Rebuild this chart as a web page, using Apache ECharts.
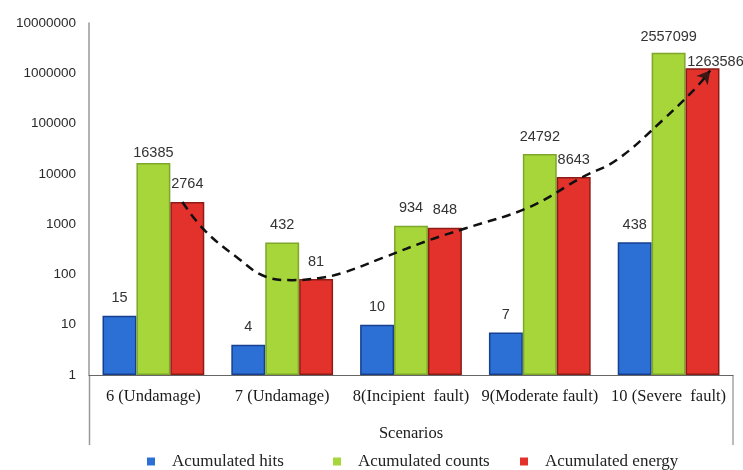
<!DOCTYPE html>
<html>
<head>
<meta charset="utf-8">
<script src="https://cdn.jsdelivr.net/npm/echarts@6/dist/echarts.min.js"></script>
<style>
  html, body { margin: 0; padding: 0; background: #fff; }
  #chart { width: 743px; height: 470px; }
</style>
</head>
<body>
<div id="chart"></div>
<script>
// Scenario categories along the x axis
const scenarios = ['6 (Undamage)', '7 (Undamage)', '8(Incipient  fault)', '9(Moderate fault)', '10 (Severe  fault)'];

// Accumulated acoustic emission indicators per scenario
const hits   = [15, 4, 10, 7, 438];
const counts = [16385, 432, 934, 24792, 2557099];
const energy = [2764, 81, 848, 8643, 1263586];

// Log-scale tick values on the y axis
const yTicks = [1, 10, 100, 1000, 10000, 100000, 1000000, 10000000];

// Trend curve through the energy bars: [position in category units, value]
const trendX = [0.225, 0.396, 0.645, 0.878, 1.080, 1.290, 1.468, 1.779, 2.144, 2.431, 2.921, 3.332, 3.596, 3.954, 4.218, 4.323];
const trendY = [2750, 760, 222, 89, 77, 85, 107, 213, 483, 836, 2190, 8650, 18800, 117000, 535000, 1140000];

const seriesNames = ['Acumulated hits', 'Acumulated counts', 'Acumulated energy'];
const fills   = ['#2c70d6', '#a6d63a', '#e2322b'];
const borders = ['#163f8f', '#7ea62a', '#8e1c16'];

// Per-label nudges where neighbouring labels would crowd each other
const labelShift = [
  {},
  { 0: [0, 7], 4: [0, 2] },
  { 4: [13, 11] }
];

const chart = echarts.init(document.getElementById('chart'), null, { renderer: 'canvas' });

const valueLabel = {
  show: true,
  position: 'top',
  distance: 10,
  color: '#333',
  fontSize: 14.5,
  fontFamily: 'Liberation Sans'
};

function barSeries(i, values) {
  return {
    name: seriesNames[i],
    type: 'bar',
    data: values.map((v, j) => labelShift[i][j]
      ? { value: v, label: { offset: labelShift[i][j] } }
      : v),
    barGap: '0%',
    barCategoryGap: '21%',
    itemStyle: { color: fills[i], borderColor: borders[i], borderWidth: 1.5 },
    label: valueLabel,
    z: 2
  };
}

function legendAt(left, name) {
  return {
    left: left,
    top: 448,
    data: [name],
    icon: 'rect',
    itemWidth: 8,
    itemHeight: 8,
    itemStyle: { borderWidth: 0 },
    textStyle: {
      fontFamily: 'Liberation Serif',
      fontSize: 17,
      color: '#222',
      padding: [0, 0, 0, 12]
    }
  };
}

const trendData = trendX.map((x, i) => [x, trendY[i]]);
const last = trendData[trendData.length - 1];

chart.setOption({
  animation: false,
  backgroundColor: '#fff',
  grid: { left: 89, right: 10, top: 23, bottom: 95, containLabel: false },
  legend: [
    legendAt(142, seriesNames[0]),
    legendAt(328, seriesNames[1]),
    legendAt(515, seriesNames[2])
  ],
  xAxis: [
    {
      type: 'category',
      data: scenarios,
      axisLine: { lineStyle: { color: '#666', width: 1 } },
      axisTick: { show: false },
      axisLabel: {
        fontFamily: 'Liberation Serif',
        fontSize: 16.5,
        color: '#1a1a1a',
        margin: 13,
        interval: 0
      },
      name: 'Scenarios',
      nameLocation: 'middle',
      nameGap: 50,
      nameTextStyle: { fontFamily: 'Liberation Serif', fontSize: 16.5, color: '#1a1a1a' }
    },
    {
      type: 'value',
      min: -0.5,
      max: 4.5,
      show: false
    }
  ],
  yAxis: {
    type: 'log',
    logBase: 10,
    min: yTicks[0],
    max: yTicks[yTicks.length - 1],
    axisLine: { show: true, onZero: false, lineStyle: { color: '#999', width: 1.5 } },
    axisTick: { show: false },
    splitLine: { show: false },
    axisLabel: {
      fontFamily: 'Liberation Sans',
      fontSize: 13.5,
      color: '#2a2a2a',
      margin: 13,
      formatter: v => String(Math.round(v))
    }
  },
  graphic: [
    { type: 'line', shape: { x1: 89.5, y1: 375, x2: 89.5, y2: 445 }, style: { stroke: '#999', lineWidth: 1.5 } },
    { type: 'line', shape: { x1: 733, y1: 375, x2: 733, y2: 445 }, style: { stroke: '#777', lineWidth: 1 } }
  ],
  series: [
    barSeries(0, hits),
    barSeries(1, counts),
    barSeries(2, energy),
    {
      type: 'line',
      xAxisIndex: 1,
      data: trendData,
      smooth: 0.4,
      symbol: 'none',
      lineStyle: { color: '#111', width: 2.5, type: [9, 6] },
      silent: true,
      z: 5
    },
    {
      type: 'scatter',
      xAxisIndex: 1,
      data: [last],
      symbol: 'arrow',
      symbolSize: [11, 13],
      symbolRotate: -39,
      itemStyle: { color: '#111' },
      silent: true,
      z: 6
    }
  ]
});
</script>
</body>
</html>
